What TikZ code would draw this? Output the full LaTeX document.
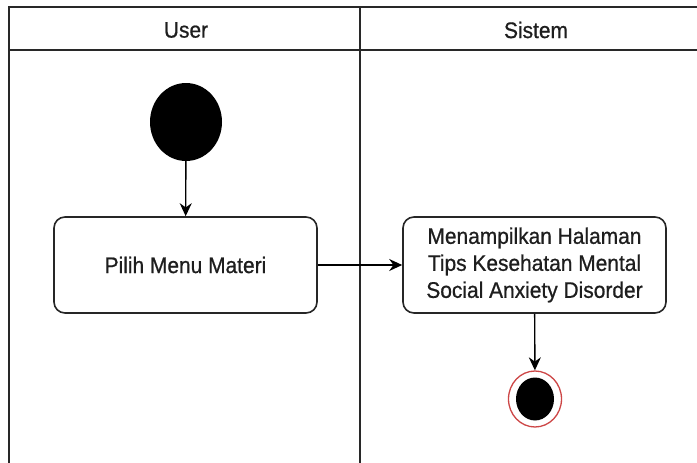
\documentclass[tikz,border=0pt]{standalone}
\usepackage{fontspec}
\setmainfont[FakeStretch=0.93,FakeBold=0.7]{Liberation Sans}
\usetikzlibrary{arrows.meta,shapes.geometric}

\definecolor{lane}{RGB}{40,40,40}
\definecolor{endring}{RGB}{205,70,70}
\definecolor{ink}{RGB}{30,30,30}

\tikzset{
  lanes/.style={draw=lane, line width=1.8pt},
  action/.style={draw=black!85, line width=1.6pt, rounded corners=11pt,
    minimum width=263pt, minimum height=96pt, align=center, inner sep=0pt,
    text=ink, font=\fontsize{22.5}{27}\selectfont},
  header/.style={text=ink, font=\fontsize{22.5}{27}\selectfont, inner sep=0pt},
  startnode/.style={ellipse, fill=black, minimum width=72pt, minimum height=78pt, inner sep=0pt},
  endouter/.style={ellipse, draw=endring, line width=1.3pt, fill=white,
    minimum width=53pt, minimum height=56pt, inner sep=0pt},
  endinner/.style={ellipse, fill=black, minimum width=38pt, minimum height=43pt, inner sep=0pt},
  flow/.style={draw=black, line width=1.4pt, -{Stealth[length=13pt,width=12pt]}}
}

\begin{document}
\begin{tikzpicture}[x=1pt, y=-1pt]
  \useasboundingbox (0,0) rectangle (697,463);
  \fill[white] (0,0) rectangle (697,463);

  % swimlane frame
  \draw[lanes] (710,7) -- (9,7) -- (9,475);
  \draw[lanes] (9,50) -- (710,50);
  \draw[lanes] (360,7) -- (360,475);

  \node[header] (laneuser) at (186,30) {User};
  \node[header] (lanesys) at (536,30) {Sistem};

  % activity nodes
  \node[startnode] (start) at (186,122) {};
  \node[action] (pilih) at (185.5,265) {Pilih Menu Materi};
  \node[action] (tampil) at (534.5,265) {Menampilkan Halaman\\Tips Kesehatan Mental\\Social Anxiety Disorder};
  \node[endouter] (final) at (535,399) {};
  \node[endinner] (finaldot) at (final.center) {};

  % control flow
  \draw[flow] (start) -- (pilih);
  \draw[flow] (pilih) -- (tampil);
  \draw[flow] (tampil) -- (final);
\end{tikzpicture}
\end{document}
